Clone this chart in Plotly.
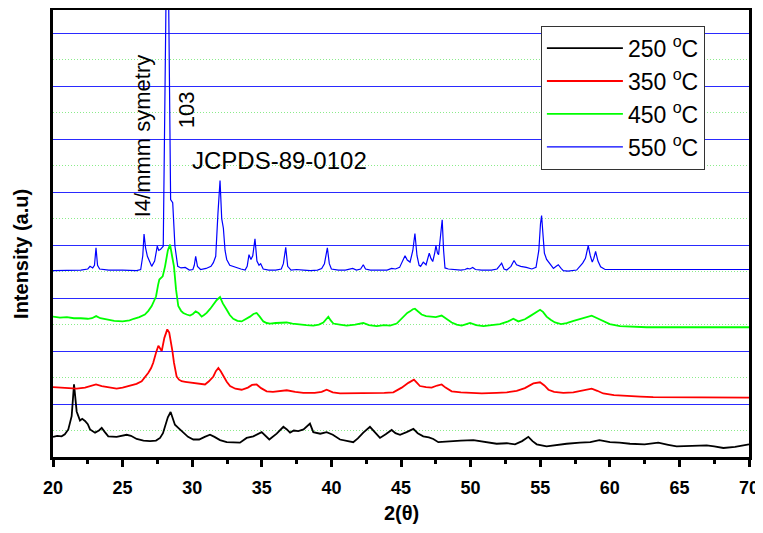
import plotly.graph_objects as go

# ---------------- data ----------------
theta_250 = [20.0, 20.3, 20.62, 20.85, 21.1, 21.34, 21.51, 21.62, 21.7, 21.94, 22.1, 22.3, 22.5, 22.66, 23.02, 23.3, 23.5, 23.7, 23.97, 24.57, 25.29, 25.6, 26.01, 26.5, 26.97, 27.4, 27.69, 27.9, 28.05, 28.25, 28.45, 28.6, 28.76, 29.0, 29.36, 29.7, 30.08, 30.5, 30.9, 31.28, 31.6, 32.0, 32.48, 33.0, 33.43, 33.91, 34.39, 34.99, 35.25, 35.54, 36.07, 36.55, 36.8, 37.03, 37.3, 37.62, 38.0, 38.46, 38.7, 39.2, 39.66, 40.1, 40.62, 41.1, 41.57, 41.9, 42.29, 42.77, 43.1, 43.49, 43.9, 44.33, 44.6, 44.93, 45.4, 45.89, 46.2, 46.6, 47.0, 47.32, 47.68, 48.5, 49.3, 50.2, 51.0, 51.87, 52.6, 53.19, 53.7, 54.15, 54.45, 54.75, 55.46, 56.2, 56.9, 57.86, 58.6, 59.25, 60.01, 60.7, 61.45, 62.5, 63.48, 64.2, 64.8, 65.9, 66.96, 67.5, 68.16, 69.0, 70.0]
int_250 = [0.38, 0.4, 0.39, 0.43, 0.52, 0.77, 1.37, 1.1, 0.86, 0.69, 0.72, 0.68, 0.62, 0.52, 0.46, 0.5, 0.55, 0.48, 0.39, 0.38, 0.42, 0.4, 0.34, 0.31, 0.3, 0.31, 0.36, 0.45, 0.58, 0.75, 0.85, 0.75, 0.61, 0.55, 0.46, 0.38, 0.33, 0.33, 0.38, 0.42, 0.38, 0.32, 0.28, 0.27, 0.27, 0.36, 0.39, 0.47, 0.4, 0.33, 0.44, 0.57, 0.52, 0.46, 0.5, 0.49, 0.52, 0.63, 0.47, 0.44, 0.47, 0.42, 0.33, 0.3, 0.28, 0.35, 0.46, 0.57, 0.48, 0.36, 0.43, 0.51, 0.45, 0.42, 0.47, 0.53, 0.45, 0.39, 0.37, 0.34, 0.28, 0.3, 0.31, 0.32, 0.28, 0.25, 0.26, 0.24, 0.3, 0.38, 0.3, 0.24, 0.2, 0.23, 0.25, 0.27, 0.28, 0.32, 0.28, 0.27, 0.25, 0.24, 0.27, 0.23, 0.2, 0.21, 0.22, 0.2, 0.17, 0.19, 0.24]

theta_350 = [20.0, 20.5, 21.0, 21.7, 22.3, 22.7, 23.09, 23.5, 24.0, 24.57, 25.0, 25.53, 26.0, 26.37, 26.6, 26.85, 27.05, 27.2, 27.4, 27.57, 27.7, 27.81, 28.0, 28.21, 28.35, 28.45, 28.58, 28.69, 28.88, 29.05, 29.24, 29.5, 29.84, 30.32, 30.92, 31.2, 31.52, 31.7, 31.88, 32.05, 32.24, 32.48, 32.72, 33.1, 33.55, 34.0, 34.3, 34.63, 34.95, 35.35, 35.8, 36.3, 36.79, 37.4, 37.98, 38.8, 39.3, 39.66, 40.1, 40.62, 41.3, 42.05, 43.0, 43.8, 44.45, 45.05, 45.53, 45.93, 46.15, 46.36, 46.8, 47.2, 47.6, 47.92, 48.2, 48.64, 49.3, 49.96, 50.8, 51.87, 52.6, 53.31, 53.9, 54.51, 54.99, 55.3, 55.59, 56.0, 56.66, 57.38, 58.0, 58.7, 59.1, 59.53, 60.3, 61.21, 62.2, 63.12, 64.3, 65.52, 67.0, 68.5, 70.0]
int_350 = [1.32, 1.31, 1.3, 1.29, 1.31, 1.34, 1.37, 1.34, 1.31, 1.29, 1.31, 1.34, 1.38, 1.43, 1.5, 1.59, 1.68, 1.78, 1.97, 2.1, 2.05, 2.0, 2.25, 2.41, 2.35, 2.22, 2.0, 1.78, 1.52, 1.46, 1.43, 1.42, 1.41, 1.4, 1.37, 1.43, 1.52, 1.62, 1.68, 1.62, 1.52, 1.42, 1.34, 1.29, 1.27, 1.31, 1.36, 1.37, 1.3, 1.24, 1.23, 1.24, 1.26, 1.23, 1.21, 1.21, 1.23, 1.27, 1.22, 1.2, 1.2, 1.21, 1.2, 1.21, 1.22, 1.31, 1.4, 1.46, 1.4, 1.34, 1.32, 1.31, 1.35, 1.37, 1.31, 1.24, 1.22, 1.21, 1.2, 1.21, 1.22, 1.25, 1.3, 1.39, 1.41, 1.35, 1.27, 1.23, 1.21, 1.22, 1.25, 1.29, 1.25, 1.2, 1.17, 1.15, 1.14, 1.13, 1.13, 1.13, 1.12, 1.12, 1.12]

theta_450 = [20.0, 20.5, 21.0, 21.5, 22.0, 22.5, 22.8, 23.1, 23.4, 23.8, 24.4, 25.0, 25.5, 25.8, 26.2, 26.6, 26.85, 27.09, 27.25, 27.4, 27.55, 27.64, 27.88, 28.05, 28.25, 28.41, 28.55, 28.69, 28.84, 29.0, 29.2, 29.36, 29.6, 29.84, 30.05, 30.25, 30.45, 30.68, 30.85, 31.04, 31.3, 31.52, 31.75, 32.0, 32.2, 32.48, 32.7, 32.95, 33.25, 33.55, 33.85, 34.15, 34.4, 34.63, 34.85, 35.11, 35.35, 35.59, 36.0, 36.5, 36.79, 37.2, 37.74, 38.2, 38.7, 39.1, 39.42, 39.6, 39.78, 39.95, 40.14, 40.6, 41.1, 41.7, 42.29, 42.7, 43.25, 43.8, 44.21, 44.69, 45.17, 45.45, 45.65, 45.85, 46.0, 46.2, 46.48, 46.8, 47.08, 47.5, 47.92, 48.2, 48.64, 49.0, 49.36, 49.7, 49.96, 50.4, 50.92, 51.5, 52.11, 52.7, 53.07, 53.43, 53.9, 54.27, 54.6, 54.99, 55.2, 55.46, 55.75, 56.06, 56.5, 56.9, 57.4, 57.86, 58.3, 58.7, 59.1, 59.53, 60.0, 60.73, 61.5, 62.65, 64.0, 65.28, 66.5, 68.0, 69.0, 70.0]
int_450 = [2.65, 2.63, 2.64, 2.62, 2.62, 2.61, 2.62, 2.66, 2.62, 2.6, 2.57, 2.56, 2.58, 2.61, 2.64, 2.69, 2.76, 2.85, 2.96, 3.03, 3.25, 3.35, 3.41, 3.6, 3.9, 4.01, 3.8, 3.6, 3.16, 2.85, 2.76, 2.72, 2.69, 2.67, 2.7, 2.75, 2.72, 2.65, 2.68, 2.72, 2.8, 2.88, 2.96, 3.02, 2.9, 2.78, 2.68, 2.61, 2.57, 2.56, 2.6, 2.65, 2.7, 2.72, 2.65, 2.56, 2.53, 2.52, 2.53, 2.53, 2.54, 2.52, 2.5, 2.49, 2.48, 2.5, 2.54, 2.6, 2.65, 2.58, 2.52, 2.5, 2.48, 2.5, 2.53, 2.49, 2.47, 2.49, 2.48, 2.52, 2.65, 2.72, 2.75, 2.79, 2.8, 2.75, 2.69, 2.66, 2.65, 2.64, 2.67, 2.62, 2.54, 2.5, 2.48, 2.51, 2.53, 2.49, 2.47, 2.49, 2.51, 2.56, 2.61, 2.56, 2.6, 2.66, 2.72, 2.78, 2.74, 2.65, 2.59, 2.54, 2.51, 2.53, 2.57, 2.61, 2.64, 2.67, 2.62, 2.56, 2.51, 2.47, 2.46, 2.45, 2.45, 2.45, 2.46, 2.45, 2.46, 2.45]

theta_550 = [20.0, 21.0, 22.0, 22.5, 22.66, 22.85, 22.98, 23.09, 23.2, 23.35, 24.0, 25.0, 26.0, 26.3, 26.45, 26.54, 26.65, 26.78, 26.95, 27.09, 27.3, 27.49, 27.6, 27.73, 27.92, 28.22, 28.45, 28.6, 28.76, 28.96, 29.2, 29.5, 29.8, 30.05, 30.15, 30.25, 30.38, 30.6, 31.0, 31.35, 31.52, 31.69, 31.85, 32.0, 32.12, 32.24, 32.36, 32.48, 32.7, 32.9, 33.2, 33.5, 33.8, 33.95, 34.08, 34.22, 34.35, 34.51, 34.65, 34.8, 34.92, 35.1, 35.5, 36.0, 36.4, 36.55, 36.72, 36.86, 37.1, 37.5, 38.0, 38.5, 39.0, 39.3, 39.5, 39.71, 39.85, 40.0, 40.5, 41.0, 41.53, 41.8, 42.1, 42.29, 42.45, 42.8, 43.5, 44.0, 44.33, 44.6, 44.9, 45.1, 45.29, 45.45, 45.65, 45.85, 46.0, 46.15, 46.3, 46.41, 46.6, 46.8, 47.03, 47.15, 47.28, 47.42, 47.51, 47.62, 47.7, 47.85, 47.96, 48.06, 48.16, 48.4, 48.8, 49.3, 49.6, 49.77, 49.95, 50.15, 50.35, 50.8, 51.5, 51.9, 52.05, 52.23, 52.4, 52.6, 52.9, 53.12, 53.3, 53.6, 54.0, 54.4, 54.7, 54.9, 55.02, 55.1, 55.2, 55.3, 55.46, 55.7, 55.95, 56.15, 56.3, 56.5, 56.66, 57.0, 57.3, 57.62, 57.85, 58.05, 58.25, 58.45, 58.6, 58.74, 58.85, 58.98, 59.15, 59.34, 59.66, 60.0, 65.0, 70.0]
int_550 = [3.52, 3.52, 3.53, 3.55, 3.6, 3.57, 3.62, 3.95, 3.62, 3.55, 3.53, 3.53, 3.52, 3.54, 3.8, 4.21, 3.95, 3.79, 3.7, 3.6, 3.7, 3.98, 3.9, 3.92, 3.98, 11.0, 4.86, 4.8, 3.98, 3.6, 3.57, 3.58, 3.53, 3.54, 3.62, 3.79, 3.6, 3.54, 3.56, 3.6, 3.67, 3.79, 4.6, 5.22, 4.5, 4.32, 3.9, 3.73, 3.62, 3.6, 3.57, 3.55, 3.53, 3.6, 3.82, 3.73, 3.8, 4.12, 3.7, 3.62, 3.65, 3.55, 3.53, 3.53, 3.55, 3.65, 3.96, 3.6, 3.53, 3.54, 3.53, 3.52, 3.53, 3.56, 3.65, 3.95, 3.65, 3.55, 3.53, 3.53, 3.56, 3.53, 3.55, 3.63, 3.55, 3.53, 3.53, 3.53, 3.56, 3.55, 3.58, 3.7, 3.8, 3.72, 3.68, 3.9, 4.22, 3.8, 3.62, 3.6, 3.68, 3.63, 3.85, 3.75, 3.69, 3.85, 3.99, 3.85, 3.82, 4.2, 4.48, 3.9, 3.57, 3.55, 3.54, 3.53, 3.54, 3.56, 3.55, 3.58, 3.54, 3.53, 3.53, 3.55, 3.6, 3.66, 3.55, 3.53, 3.6, 3.71, 3.63, 3.6, 3.58, 3.55, 3.58, 3.9, 4.4, 4.56, 4.2, 3.85, 3.73, 3.65, 3.56, 3.6, 3.63, 3.56, 3.52, 3.51, 3.52, 3.53, 3.6, 3.66, 3.75, 3.99, 3.8, 3.68, 3.75, 3.88, 3.7, 3.59, 3.54, 3.54, 3.54, 3.54]

series_names = ["250 <sup>o</sup>C", "350 <sup>o</sup>C", "450 <sup>o</sup>C", "550 <sup>o</sup>C"]
series_colors = ["#000000", "#ff0000", "#00ff00", "#0000ff"]
x_ticks = [20, 25, 30, 35, 40, 45, 50, 55, 60, 65, 70]

# ---------------- figure ----------------
fig = go.Figure()
xs = [theta_250, theta_350, theta_450, theta_550]
ys = [int_250, int_350, int_450, int_550]
widths = [1.8, 1.8, 1.8, 1.2]
for i in range(4):
    fig.add_trace(go.Scatter(
        x=xs[i], y=ys[i], mode="lines", name=series_names[i],
        line=dict(color=series_colors[i], width=widths[i]),
        legendgroup=str(i),
    ))

# the page body adds an 8px offset, so the figure is sized to the remaining window
fig.update_layout(
    width=755, height=525,
    margin=dict(l=45, r=14, t=2, b=75.5),
    paper_bgcolor="white", plot_bgcolor="white",
    font=dict(family="Liberation Sans, Arial, sans-serif", color="black"),
    showlegend=True,
    legend=dict(
        x=0.701, y=0.965, xanchor="left", yanchor="top",
        bgcolor="white", bordercolor="#333333", borderwidth=1,
        font=dict(size=23, color="black"),
        tracegroupgap=0, itemwidth=76,
    ),
)

fig.update_xaxes(
    range=[20, 70], tickvals=x_ticks, ticktext=[str(v) for v in x_ticks],
    automargin=False,
    showline=True, linecolor="black", linewidth=3, mirror=True,
    ticks="outside", ticklen=7, tickwidth=2.5, tickcolor="black",
    minor=dict(dtick=2.5, tick0=20, ticks="outside", ticklen=4, tickwidth=2.5, tickcolor="black", showgrid=False),
    tickfont=dict(size=18, weight="bold"), ticklabelstandoff=5,
    showgrid=False, zeroline=False,
)
fig.update_yaxes(
    range=[0, 8.44], dtick=1, tick0=0,
    automargin=False,
    showline=True, linecolor="black", linewidth=3, mirror=True,
    showticklabels=False, ticks="",
    showgrid=True, gridcolor="#2a2aff", gridwidth=1,
    minor=dict(dtick=0.5, tick0=0, showgrid=True, gridcolor="#8aec8a", griddash="1px,2px", gridwidth=1, ticks=""),
    zeroline=False,
)

annos = [
    dict(text="I4/mmm symetry", x=26.45, y=6.07, textangle=-90, size=22),
    dict(text="103", x=29.6, y=6.56, textangle=-90, size=22),
    dict(text="JCPDS-89-0102", x=36.25, y=5.6, textangle=0, size=24),
]
for a in annos:
    fig.add_annotation(x=a["x"], y=a["y"], xref="x", yref="y", text=a["text"],
                       textangle=a["textangle"], showarrow=False,
                       xanchor="center", yanchor="middle",
                       font=dict(size=a["size"], color="black"))

fig.add_annotation(text="Intensity (a.u)", xref="paper", yref="paper",
                   x=-0.047, y=0.455, textangle=-90, showarrow=False,
                   xanchor="center", yanchor="middle",
                   font=dict(size=20, weight="bold"))
fig.add_annotation(text="2(θ)", xref="paper", yref="paper",
                   x=0.5, y=-0.126, showarrow=False,
                   xanchor="center", yanchor="middle",
                   font=dict(size=20, weight="bold"))

fig.write_html("out.html")
